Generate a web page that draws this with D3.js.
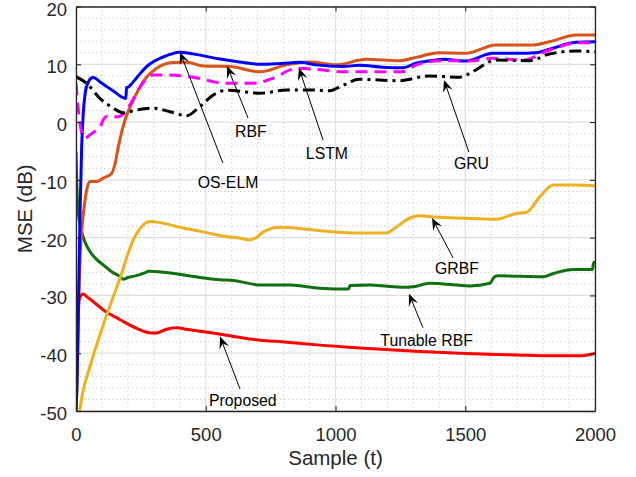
<!DOCTYPE html>
<html>
<head>
<meta charset="utf-8">
<script src="https://cdn.jsdelivr.net/npm/d3@7"></script>
<style>
  body { margin: 0; background: #fff; }
  svg { display: block; font-family: "Liberation Sans", Arial, Helvetica, sans-serif; }
</style>
</head>
<body>
<svg id="chart" width="636" height="477"></svg>
<script>
// Axis ticks
const xTicks = [0, 500, 1000, 1500, 2000];
const yTicks = [-50, -40, -30, -20, -10, 0, 10, 20];
const xMinorStep = 100;
const yMinorStep = 2;

// MSE learning curves, [sample, MSE dB]
const osElm = [[0,-50],[4,-45],[10,-30],[16,-15],[22,-4],[28,1.5],[36,5.2],[47,6.9],[66,7.7],[100,6.7],[140,5.5],[192,4.1],[195,6.0],[203,6.1],[212,6.5],[240,8.0],[272,9.6],[337,11.3],[401,12.1],[450,11.8],[555,10.9],[630,10.4],[709,10.0],[790,10.15],[863,10.35],[925,9.9],[1028,9.6],[1092,9.85],[1180,9.5],[1259,9.4],[1310,10.2],[1387,10.75],[1413,10.86],[1503,10.57],[1606,11.9],[1700,11.9],[1773,12.0],[1824,12.6],[1927,13.8],[2000,13.9]];
const rbf = [[0,-50],[4,-45],[10,-32],[16,-23],[22,-18.7],[28,-16],[40,-12],[54,-10.3],[80,-10.3],[105,-9.7],[137,-8.9],[150,-7.3],[163,-4.3],[189,0.4],[221,3.8],[259,7.0],[311,9.3],[375,10.3],[426,10.35],[490,9.7],[593,9.6],[709,8.7],[812,9.9],[902,10.4],[1002,9.9],[1118,10.86],[1246,10.62],[1310,11.2],[1400,12.0],[1503,11.9],[1618,13.34],[1760,13.34],[1824,13.9],[1927,15.05],[2000,15.05]];
const lstm = [[0,6.7],[9,2.1],[22,-1.8],[35,-2.75],[60,-2.0],[92,-0.8],[115,0.9],[150,0.9],[170,1.0],[208,3.0],[247,6.1],[298,8.15],[362,8.15],[439,7.85],[581,6.7],[683,6.7],[760,7.6],[850,9.3],[925,9.13],[1028,8.72],[1259,8.72],[1310,9.88],[1413,10.62],[1516,10.57],[1606,11.04],[1721,10.74],[1824,12.47],[1940,13.74],[2000,13.74]];
const gru = [[0,7.85],[41,6.7],[92,4.1],[144,2.4],[182,1.6],[234,2.1],[298,2.4],[362,1.8],[426,1.1],[478,2.7],[529,4.7],[581,5.5],[709,5.0],[812,5.55],[915,5.55],[976,5.4],[1030,6.4],[1092,7.4],[1246,7.16],[1361,7.98],[1477,7.75],[1529,8.72],[1618,10.74],[1747,10.62],[1824,11.78],[1927,12.3],[2000,12.18]];
const grbf = [[14,-50],[25,-47],[54,-42.3],[80,-38.5],[105,-35.1],[144,-30.2],[176,-26.2],[200,-22.8],[221,-20.4],[247,-18.4],[285,-17.2],[324,-17.4],[400,-18.2],[490,-19.0],[593,-19.9],[632,-20.1],[671,-20.4],[700,-19.8],[722,-19.0],[786,-18.2],[860,-18.4],[940,-18.8],[1094,-19.2],[1197,-19.2],[1236,-18.1],[1287,-16.6],[1326,-16.2],[1364,-16.4],[1480,-16.6],[1621,-16.8],[1698,-15.8],[1737,-15.6],[1788,-12.9],[1840,-10.9],[1930,-10.9],[2000,-11.0]];
const tunableRbf = [[0,-5.1],[2,-9],[5,-13],[9,-15.5],[22,-19],[35,-20.8],[54,-22.4],[80,-23.8],[105,-24.7],[144,-26.1],[170,-26.7],[182,-27.2],[200,-26.9],[221,-26.7],[259,-26.2],[270,-26.0],[279,-25.8],[349,-26.05],[478,-26.9],[555,-27.3],[606,-27.4],[709,-28.2],[825,-28.2],[940,-28.75],[1050,-28.9],[1056,-28.3],[1133,-28.2],[1200,-28.4],[1274,-28.6],[1300,-28.5],[1364,-27.9],[1518,-28.35],[1595,-27.9],[1612,-26.8],[1627,-26.6],[1801,-26.75],[1840,-26.2],[1916,-25.5],[1990,-25.5],[1995,-24.3],[2000,-24.3]];
const proposed = [[0,-36.5],[2,-39.8],[4,-38],[8,-33],[14,-30.5],[28,-29.75],[41,-30.2],[67,-31.1],[105,-32.5],[170,-34.2],[234,-35.7],[290,-36.5],[311,-36.5],[330,-36.2],[349,-35.85],[388,-35.6],[430,-35.9],[465,-36.1],[555,-36.7],[683,-37.6],[812,-38.1],[940,-38.6],[1094,-39.1],[1326,-39.7],[1503,-40.05],[1696,-40.3],[1837,-40.45],[1940,-40.45],[2000,-40.05]];

// Annotation arrows: label, arrow tip, arrow tail, label centre (data units)
const notes = [
  { label: "OS-ELM",      tip: [401, 12.1],  tail: [566, -7.1],  at: [586, -10.5] },
  { label: "RBF",         tip: [582, 9.7],   tail: [663, 0.7],   at: [674, -1.6] },
  { label: "LSTM",        tip: [859, 9.35],  tail: [952, -3.1],  at: [967, -5.4] },
  { label: "GRU",         tip: [1418, 7.3],  tail: [1514, -5.2], at: [1524, -7.1] },
  { label: "GRBF",        tip: [1372, -16.6], tail: [1453, -23.5], at: [1468, -25.3] },
  { label: "Tunable RBF", tip: [1283, -29.7], tail: [1337, -35.6], at: [1351, -37.8] },
  { label: "Proposed",    tip: [555, -37.1], tail: [632, -46.2], at: [643, -48.2] }
];

const W = 636, H = 477;
const margin = { left: 76, top: 6.5, right: 41, bottom: 66 };
const pw = W - margin.left - margin.right;
const ph = H - margin.top - margin.bottom;

const x = d3.scaleLinear().domain([0, 2000]).range([0, pw]);
const y = d3.scaleLinear().domain([-50, 20]).range([ph, 0]);

const svg = d3.select("#chart");
const g = svg.append("g").attr("transform", `translate(${margin.left},${margin.top})`);

svg.append("defs").append("clipPath").attr("id", "plot")
  .append("rect").attr("width", pw).attr("height", ph);

// Minor grid (dotted)
const xMinor = d3.range(0, 2001, xMinorStep).filter(v => !xTicks.includes(v));
const yMinor = d3.range(-50, 21, yMinorStep).filter(v => !yTicks.includes(v));
g.append("g").selectAll("line").data(xMinor).join("line")
  .attr("x1", d => x(d)).attr("x2", d => x(d)).attr("y1", 0).attr("y2", ph)
  .attr("stroke", "#c9c9c9").attr("stroke-width", 1).attr("stroke-dasharray", "1.3,2.7");
g.append("g").selectAll("line").data(yMinor).join("line")
  .attr("y1", d => y(d)).attr("y2", d => y(d)).attr("x1", 0).attr("x2", pw)
  .attr("stroke", "#c9c9c9").attr("stroke-width", 1).attr("stroke-dasharray", "1.3,2.7");

// Major grid
g.append("g").selectAll("line").data(xTicks).join("line")
  .attr("x1", d => x(d)).attr("x2", d => x(d)).attr("y1", 0).attr("y2", ph)
  .attr("stroke", "#dedede").attr("stroke-width", 1.2);
g.append("g").selectAll("line").data(yTicks).join("line")
  .attr("y1", d => y(d)).attr("y2", d => y(d)).attr("x1", 0).attr("x2", pw)
  .attr("stroke", "#dedede").attr("stroke-width", 1.2);

// Curves
const line = d3.line().x(d => x(d[0])).y(d => y(d[1])).curve(d3.curveMonotoneX);
const series = [
  { data: tunableRbf, color: "#0f700f", dash: null },
  { data: proposed,   color: "#ff0000", dash: null },
  { data: grbf,       color: "#edb120", dash: null },
  { data: rbf,        color: "#d95319", dash: null },
  { data: osElm,      color: "#0000ff", dash: null },
  { data: lstm,       color: "#ff00ff", dash: "12,7" },
  { data: gru,        color: "#000000", dash: "12,5,3,5" }
];
const curves = g.append("g").attr("clip-path", "url(#plot)");
curves.selectAll("path").data(series).join("path")
  .attr("d", d => line(d.data))
  .attr("fill", "none")
  .attr("stroke", d => d.color)
  .attr("stroke-width", 3)
  .attr("stroke-linejoin", "round")
  .attr("stroke-dasharray", d => d.dash);

// Axes with inward ticks on all four sides
const axisColor = "#262626";
const tickLen = 5;
const plain = d => String(d);
const axB = g.append("g").attr("transform", `translate(0,${ph})`)
  .call(d3.axisBottom(x).tickValues(xTicks).tickFormat(plain).tickSizeInner(-tickLen).tickSizeOuter(0).tickPadding(17));
const axT = g.append("g")
  .call(d3.axisTop(x).tickValues(xTicks).tickSizeInner(-tickLen).tickSizeOuter(0).tickFormat(""));
const axL = g.append("g")
  .call(d3.axisLeft(y).tickValues(yTicks).tickFormat(plain).tickSizeInner(-tickLen).tickSizeOuter(0).tickPadding(9));
const axR = g.append("g").attr("transform", `translate(${pw},0)`)
  .call(d3.axisRight(y).tickValues(yTicks).tickSizeInner(-tickLen).tickSizeOuter(0).tickFormat(""));
[axB, axT, axL, axR].forEach(a => {
  a.select(".domain").attr("stroke", axisColor).attr("stroke-width", 1.3);
  a.selectAll(".tick line").attr("stroke", axisColor).attr("stroke-width", 1.1);
  a.selectAll(".tick text").attr("fill", axisColor)
    .style("font-family", '"Liberation Sans", Arial, sans-serif').style("font-size", "18.5px");
});
axL.selectAll(".tick text").attr("dy", "0.46em");

// Axis titles
svg.append("text")
  .attr("x", margin.left + pw / 2).attr("y", 465)
  .attr("text-anchor", "middle").attr("fill", axisColor)
  .style("font-size", "20.5px").text("Sample (t)");
svg.append("text")
  .attr("transform", `translate(32,${margin.top + ph / 2}) rotate(-90)`)
  .attr("text-anchor", "middle").attr("fill", axisColor)
  .style("font-size", "20.5px").text("MSE (dB)");

// Annotations
const ann = g.append("g");
const headL = 12, headW = 10;
notes.forEach(n => {
  const px = x(n.tip[0]), py = y(n.tip[1]);
  const qx = x(n.tail[0]), qy = y(n.tail[1]);
  const dx = px - qx, dy = py - qy, len = Math.hypot(dx, dy);
  const ux = dx / len, uy = dy / len, nx = -uy, ny = ux;
  const bx = px - ux * headL, by = py - uy * headL;
  const kx = px - ux * headL * 0.62, ky = py - uy * headL * 0.62;
  ann.append("line")
    .attr("x1", qx).attr("y1", qy).attr("x2", kx).attr("y2", ky)
    .attr("stroke", "#000").attr("stroke-width", 1);
  ann.append("path")
    .attr("d", `M${px},${py}L${bx + nx * headW / 2},${by + ny * headW / 2}L${kx},${ky}L${bx - nx * headW / 2},${by - ny * headW / 2}Z`)
    .attr("fill", "#000");
  ann.append("text")
    .attr("x", x(n.at[0])).attr("y", y(n.at[1])).attr("dy", "0.36em")
    .attr("text-anchor", "middle").attr("fill", "#000")
    .style("font-size", "15.8px").text(n.label);
});
</script>
</body>
</html>
